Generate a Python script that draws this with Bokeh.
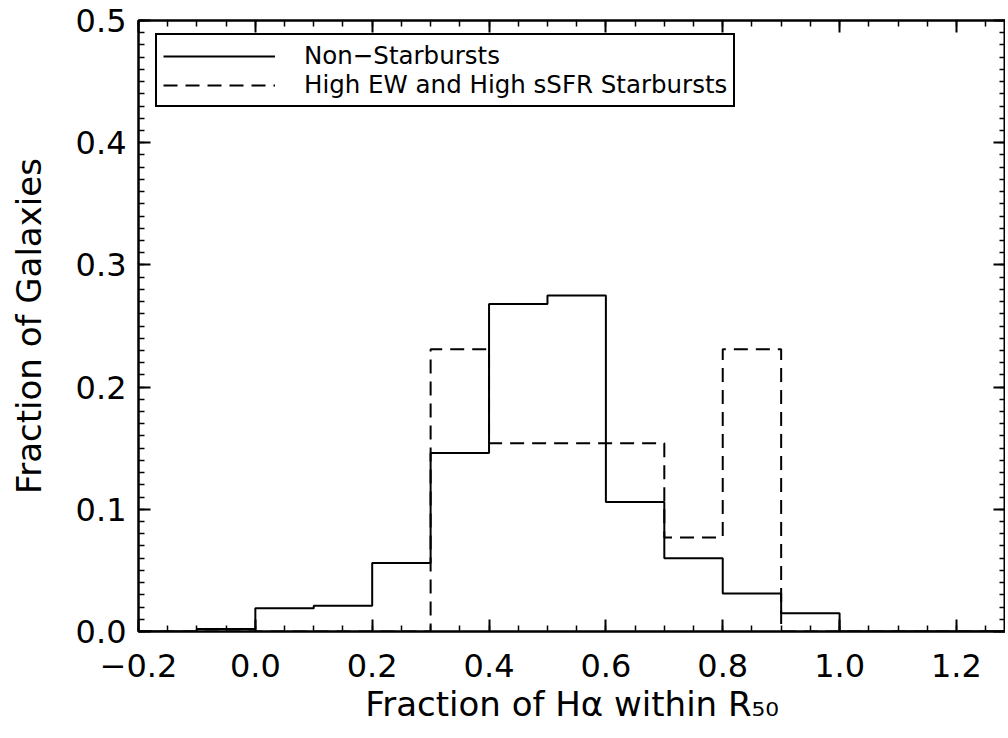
from bokeh.plotting import figure
from bokeh.models import (Range1d, FixedTicker, LinearAxis, CustomJSTickFormatter,
                          PrintfTickFormatter, Legend, LegendItem)
from bokeh.embed import file_html
from bokeh.resources import INLINE

# bin edges (Fraction of H-alpha within R50)
bin_edges = [-0.2, -0.1, 0.0, 0.1, 0.2, 0.3, 0.4, 0.5, 0.6, 0.7, 0.8, 0.9, 1.0, 1.1, 1.2, 1.3]
# fraction of galaxies per bin
non_starbursts = [0.0, 0.002, 0.019, 0.021, 0.056, 0.146, 0.268, 0.275, 0.106, 0.060, 0.031, 0.015, 0.0, 0.0, 0.0]
starbursts = [0.0, 0.0, 0.0, 0.0, 0.0, 0.231, 0.154, 0.154, 0.154, 0.077, 0.231, 0.0, 0.0, 0.0, 0.0]

x_ticks = [-0.2, 0.0, 0.2, 0.4, 0.6, 0.8, 1.0, 1.2]
x_minor = [round(-0.2 + 0.05 * i, 2) for i in range(30)]
y_ticks = [0.0, 0.1, 0.2, 0.3, 0.4, 0.5]
y_minor = [round(0.01 * i, 2) for i in range(51)]

series_labels = ["Non\u2212Starbursts", "High EW and High sSFR Starbursts"]
x_title = "Fraction of H\u03b1 within R\u2085\u2080"
y_title = "Fraction of Galaxies"

FONT = "DejaVu Sans"

p = figure(frame_width=867, frame_height=611, output_backend="svg", toolbar_location=None,
           x_range=Range1d(-0.2, 1.284), y_range=Range1d(0.0, 0.5),
           x_axis_type=None, y_axis_type=None,
           min_border_left=138, min_border_right=0, min_border_top=20, min_border_bottom=0)
p.background_fill_color = "white"
p.border_fill_color = "white"
p.outline_line_color = "black"
p.outline_line_width = 2
p.xgrid.visible = False
p.ygrid.visible = False

def style_axis(ax, labels=True):
    ax.axis_line_width = 2
    ax.axis_line_color = "black"
    ax.major_tick_in = 12
    ax.major_tick_out = 0
    ax.minor_tick_in = 6
    ax.minor_tick_out = 0
    ax.major_tick_line_width = 2
    ax.minor_tick_line_width = 1.5
    ax.major_tick_line_color = "black"
    ax.minor_tick_line_color = "black"
    if labels:
        ax.major_label_text_font = FONT
        ax.major_label_text_font_size = "32px"
        ax.major_label_text_color = "black"
        ax.axis_label_text_font = FONT
        ax.axis_label_text_font_size = "34px"
        ax.axis_label_text_font_style = "normal"
        ax.axis_label_text_color = "black"
    else:
        ax.major_label_standoff = 0
        ax.major_label_text_font_size = "10px"

xfmt = CustomJSTickFormatter(code="return tick.toFixed(1).replace('-', '\\u2212');")
yfmt = PrintfTickFormatter(format="%.1f")
blank = CustomJSTickFormatter(code="return '';")

xb = LinearAxis(ticker=FixedTicker(ticks=x_ticks, minor_ticks=x_minor), formatter=xfmt,
                axis_label=x_title)
style_axis(xb)
xb.major_label_standoff = 22
xb.axis_label_standoff = 4
p.add_layout(xb, "below")

yl = LinearAxis(ticker=FixedTicker(ticks=y_ticks, minor_ticks=y_minor), formatter=yfmt,
                axis_label=y_title)
style_axis(yl)
yl.major_label_standoff = 12
yl.axis_label_standoff = 24
p.add_layout(yl, "left")

xt = LinearAxis(ticker=FixedTicker(ticks=x_ticks, minor_ticks=x_minor), formatter=blank)
style_axis(xt, labels=False)
p.add_layout(xt, "above")

yr = LinearAxis(ticker=FixedTicker(ticks=y_ticks, minor_ticks=y_minor), formatter=blank)
style_axis(yr, labels=False)
p.add_layout(yr, "right")

r1 = p.step(x=bin_edges, y=non_starbursts + [non_starbursts[-1]], mode="after",
            line_color="black", line_width=2)
r2 = p.step(x=bin_edges, y=starbursts + [starbursts[-1]], mode="after",
            line_color="black", line_width=2, line_dash="14 8")

legend = Legend(items=[LegendItem(label=series_labels[0], renderers=[r1]),
                       LegendItem(label=series_labels[1], renderers=[r2])],
                location=(17, 524))
legend.label_text_font = FONT
legend.label_text_font_size = "24.5px"
legend.label_text_color = "black"
legend.glyph_width = 112
legend.glyph_height = 26
legend.label_height = 26
legend.label_standoff = 29
legend.padding = 6
legend.spacing = 0
legend.margin = 0
legend.border_line_color = "black"
legend.border_line_alpha = 1.0
legend.border_line_width = 2
legend.background_fill_alpha = 1.0
p.add_layout(legend, "center")

open("out.html", "w").write(file_html(p, INLINE))
